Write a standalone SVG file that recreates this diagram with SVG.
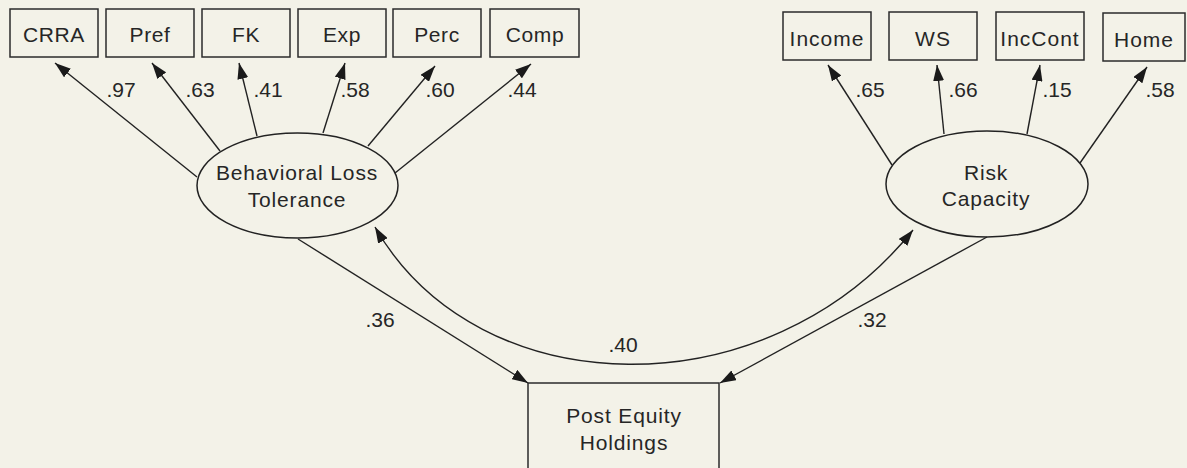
<svg xmlns="http://www.w3.org/2000/svg" width="1187" height="468" viewBox="0 0 1187 468">
<style>
.box{fill:none;stroke:#2b2b2b;stroke-width:1.5}
.ell{fill:none;stroke:#222;stroke-width:1.5}
.t{font-family:"Liberation Sans",Arial,sans-serif;font-size:21px;fill:#262626;text-anchor:middle}
.tl{letter-spacing:0.6px}
.tr{letter-spacing:1px}
.te{letter-spacing:0.85px}
.c{fill:none;stroke:#222;stroke-width:1.4}
</style>
<defs>
<marker id="ah" viewBox="0 0 16 11" refX="16" refY="5.5" markerWidth="16" markerHeight="11" markerUnits="userSpaceOnUse" orient="auto-start-reverse">
<path d="M0,0 L16,5.5 L0,11 z" fill="#1a1a1a"/>
</marker>
</defs>
<rect width="1187" height="468" fill="#f3f2e8"/>

<g id="CRRA"><rect class="box" x="10" y="9" width="88" height="48"/><text class="t tl" x="54" y="42">CRRA</text></g>
<g id="Pref"><rect class="box" x="106" y="9" width="88" height="48"/><text class="t tl" x="150" y="42">Pref</text></g>
<g id="FK"><rect class="box" x="202" y="9" width="88" height="48"/><text class="t tl" x="246" y="42">FK</text></g>
<g id="Exp"><rect class="box" x="298" y="9" width="88" height="48"/><text class="t tl" x="342" y="42">Exp</text></g>
<g id="Perc"><rect class="box" x="393" y="9" width="88" height="48"/><text class="t tl" x="437" y="42">Perc</text></g>
<g id="Comp"><rect class="box" x="490" y="9" width="89" height="48"/><text class="t tl" x="535" y="42">Comp</text></g>

<g id="Income"><rect class="box" x="783" y="12" width="88" height="48"/><text class="t tr" x="827" y="46">Income</text></g>
<g id="WS"><rect class="box" x="889" y="12" width="88" height="48"/><text class="t tr" x="933" y="46">WS</text></g>
<g id="IncCont"><rect class="box" x="996" y="12" width="88" height="48"/><text class="t tr" x="1040" y="46">IncCont</text></g>
<g id="Home"><rect class="box" x="1103" y="13" width="82" height="48"/><text class="t tr" x="1144" y="47">Home</text></g>

<g id="BLT"><ellipse class="ell" cx="297.5" cy="185.5" rx="100.5" ry="52.5"/><text class="t te" x="297" y="180">Behavioral Loss</text><text class="t te" x="297" y="207">Tolerance</text></g>
<g id="RC"><ellipse class="ell" cx="987" cy="184" rx="101" ry="53"/><text class="t te" x="986" y="180">Risk</text><text class="t te" x="986" y="206">Capacity</text></g>

<g id="PEH"><rect class="box" x="528" y="383" width="191" height="95"/><text class="t te" x="624" y="423">Post Equity</text><text class="t te" x="624" y="450">Holdings</text></g>

<g id="connectors">
<path class="c" d="M197,177 L55,63" marker-end="url(#ah)"/>
<path class="c" d="M220,151 L152,63" marker-end="url(#ah)"/>
<path class="c" d="M257,136 L239,63" marker-end="url(#ah)"/>
<path class="c" d="M323,133 L345,63" marker-end="url(#ah)"/>
<path class="c" d="M368,146 L435,66" marker-end="url(#ah)"/>
<path class="c" d="M395,173 L531,64" marker-end="url(#ah)"/>

<path class="c" d="M892,165 L828,65" marker-end="url(#ah)"/>
<path class="c" d="M944,134 L937,65" marker-end="url(#ah)"/>
<path class="c" d="M1027,134 L1040,65" marker-end="url(#ah)"/>
<path class="c" d="M1080,163 L1147,67" marker-end="url(#ah)"/>

<path class="c" d="M298,239 L528,383" marker-end="url(#ah)"/>
<path class="c" d="M987,237 L720,383" marker-end="url(#ah)"/>
<path class="c" d="M375,227 C479,408 768,411 913,230" marker-start="url(#ah)" marker-end="url(#ah)"/>
</g>

<g id="labels">
<text class="t" x="121" y="97">.97</text>
<text class="t" x="200" y="97">.63</text>
<text class="t" x="268" y="97">.41</text>
<text class="t" x="355" y="97">.58</text>
<text class="t" x="440" y="97">.60</text>
<text class="t" x="522" y="97">.44</text>
<text class="t" x="870" y="97">.65</text>
<text class="t" x="963" y="97">.66</text>
<text class="t" x="1057" y="97">.15</text>
<text class="t" x="1160" y="97">.58</text>
<text class="t" x="380" y="327">.36</text>
<text class="t" x="623" y="352">.40</text>
<text class="t" x="872" y="327">.32</text>
</g>
</svg>
